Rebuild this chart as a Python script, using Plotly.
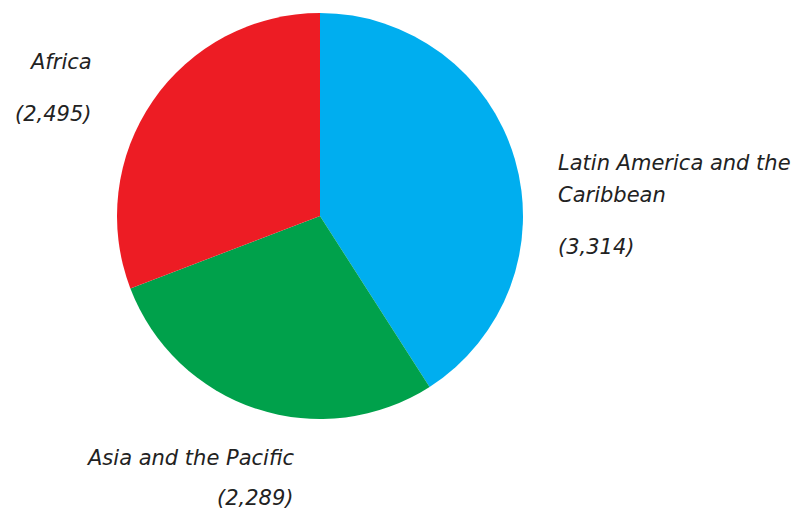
import plotly.graph_objects as go

# Regional totals
regions = ["Latin America and the<br>Caribbean", "Asia and the Pacific", "Africa"]
values = [3314, 2289, 2495]
colors = ["#00AEEF", "#00A14B", "#ED1C24"]

W, H = 793, 512
cx, cy, r = 320, 216, 203

fig = go.Figure(go.Pie(
    labels=[s.replace("<br>", " ") for s in regions],
    values=values,
    sort=False,
    direction="clockwise",
    rotation=0,
    marker=dict(colors=colors, line=dict(width=0)),
    textinfo="none",
    hoverinfo="label+value",
    showlegend=False,
    domain=dict(x=[(cx - r) / W, (cx + r) / W], y=[1 - (cy + r) / H, 1 - (cy - r) / H]),
))

font = dict(family="DejaVu Sans", size=21, color="#222222")

# label layout: (x, anchor, y of first name line, y of value line)
label_pos = {
    "Africa": (94, "right", 62, 114),
    "Latin America and the<br>Caribbean": (556, "left", 163, 247),
    "Asia and the Pacific": (296, "right", 458, 498),
}
line_gap = 32

annotations = []
for name, val in zip(regions, values):
    x, anchor, y_name, y_val = label_pos[name]
    for i, line in enumerate(name.split("<br>")):
        annotations.append(dict(
            x=x / W, y=1 - (y_name + i * line_gap) / H, xref="paper", yref="paper",
            text=f"<i>{line}</i>", showarrow=False, xanchor=anchor, yanchor="middle",
            font=font,
        ))
    annotations.append(dict(
        x=x / W, y=1 - y_val / H, xref="paper", yref="paper",
        text=f"<i>({val:,})</i>", showarrow=False, xanchor=anchor, yanchor="middle",
        font=font,
    ))

fig.update_layout(
    width=W, height=H,
    margin=dict(l=0, r=0, t=0, b=0),
    paper_bgcolor="white",
    plot_bgcolor="white",
    annotations=annotations,
)

fig.write_html("out.html")
